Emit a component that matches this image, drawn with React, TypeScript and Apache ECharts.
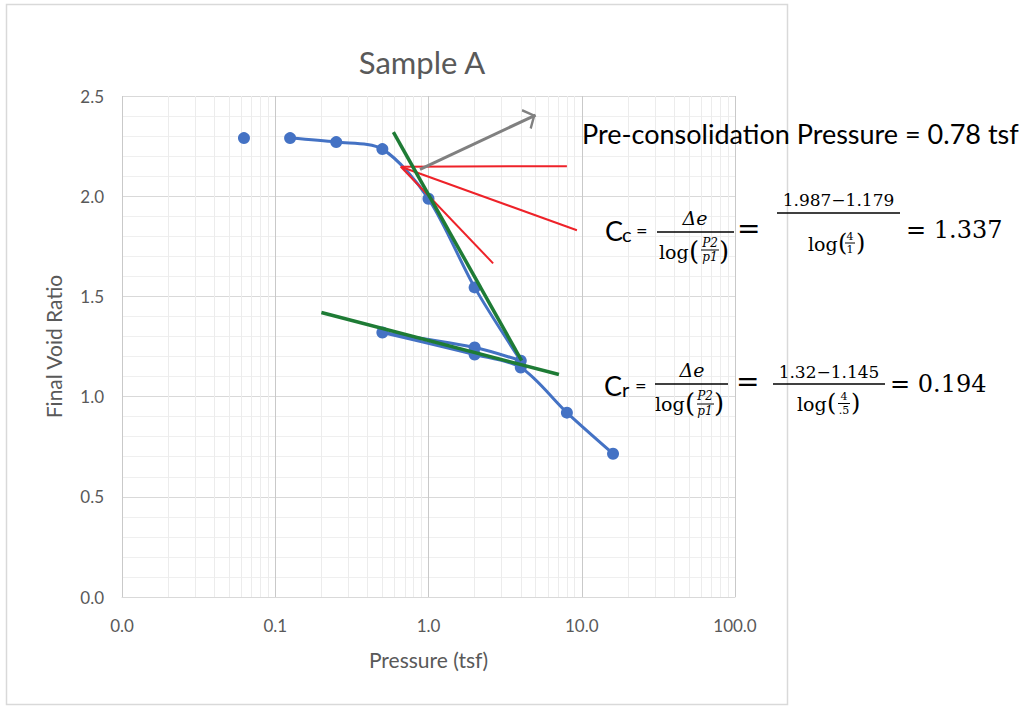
import { useEffect, useRef } from "react";
import * as echarts from "echarts";

// ---- data ----
const isolatedPressure = [0.0625];
const isolatedVoidRatio = [2.29];
const pressures = [0.125, 0.25, 0.5, 1, 2, 4, 2, 0.5, 2, 4, 8, 16];
const voidRatios = [2.29, 2.27, 2.235, 1.987, 1.545, 1.179, 1.245, 1.32, 1.21, 1.145, 0.92, 0.715];

const ccLinePressure = [0.59, 4.05];
const ccLineVoid = [2.32, 1.18];
const crLinePressure = [0.2, 7.1];
const crLineVoid = [1.42, 1.11];

const redOriginPressure = 0.66;
const redOriginVoid = 2.147;
const redEndPressure = [8, 9.3, 2.64];
const redEndVoid = [2.15, 1.83, 1.665];

const arrowPressure = [0.88, 5.0];
const arrowVoid = [2.134, 2.405];

const xMinorTicks = [
  0.02, 0.03, 0.04, 0.05, 0.06, 0.07, 0.08, 0.09,
  0.2, 0.3, 0.4, 0.5, 0.6, 0.7, 0.8, 0.9,
  2, 3, 4, 5, 6, 7, 8, 9,
  20, 30, 40, 50, 60, 70, 80, 90,
];

const SANS = "Lato, 'Open Sans', sans-serif";
const SERIF = "'DejaVu Serif', 'Liberation Serif', serif";

function txt(x: number, y: number, text: string, size: number, o: any = {}) {
  return {
    type: "text",
    x,
    y,
    z: 100,
    silent: true,
    style: {
      text,
      fontSize: size,
      fontFamily: o.family ?? SERIF,
      fontStyle: o.italic ? "italic" : "normal",
      fill: o.fill ?? "#000",
      align: o.align ?? "left",
      verticalAlign: o.va ?? "middle",
    },
  };
}
function bar(x1: number, x2: number, y: number, w = 1.3) {
  return {
    type: "line",
    z: 100,
    silent: true,
    shape: { x1, y1: y, x2, y2: y },
    style: { stroke: "#000", lineWidth: w },
  };
}

const CHEVRON = "path://M0,-14 M0,0 L12,12 L10,14 L0,4 L-10,14 L-12,12 Z";

export default function App() {
  const ref = useRef<HTMLDivElement>(null);
  useEffect(() => {
    if (!ref.current) return;
    const chart = echarts.init(ref.current, null, { renderer: "svg" });

    const mainData = pressures.map((p, i) => [p, voidRatios[i]]);
    const isoData = isolatedPressure.map((p, i) => [p, isolatedVoidRatio[i]]);
    const green = "#1e7b35";
    const red = "#ee2229";
    const blue = "#4472c4";

    const redSeries = redEndPressure.map((p, i) => ({
      type: "line",
      data: [
        [redOriginPressure, redOriginVoid],
        [p, redEndVoid[i]],
      ],
      symbol: "none",
      z: 4,
      lineStyle: { color: red, width: 2 },
      silent: true,
    }));

    const graphics: any[] = [
      {
        type: "rect",
        z: 0,
        silent: true,
        shape: { x: 6.5, y: 4.5, width: 781, height: 700 },
        style: { fill: "none", stroke: "#d9d9d9", lineWidth: 1.5 },
      },
      txt(582, 133, "Pre-consolidation Pressure = 0.78 tsf", 27, { family: SANS }),

      // Cc formula
      txt(605, 230, "C", 27, { family: SANS }),
      txt(622, 234, "c", 20, { family: SANS }),
      txt(636, 230, "=", 20, { family: SANS }),
      txt(695, 227, "Δe", 19, { italic: true, align: "center", va: "bottom" }),
      bar(657, 734, 232),
      txt(659, 252, "log", 19),
      txt(689, 251, "(", 26),
      txt(710, 249, "P2", 12, { italic: true, align: "center", va: "bottom" }),
      bar(701, 719, 250, 1),
      txt(710, 251, "p1", 12, { italic: true, align: "center", va: "top" }),
      txt(719, 251, ")", 26),
      txt(737, 228, "=", 28),
      txt(838.5, 208, "1.987−1.179", 17, { align: "center", va: "bottom" }),
      bar(777, 900, 213),
      txt(808, 244, "log", 19),
      txt(838, 243, "(", 24),
      txt(850, 242, "4", 11, { align: "center", va: "bottom" }),
      bar(845, 855, 243, 1),
      txt(850, 244, "1", 11, { align: "center", va: "top" }),
      txt(856, 243, ")", 24),
      txt(906, 230, "= 1.337", 24),

      // Cr formula
      txt(604, 385, "C", 27, { family: SANS }),
      txt(622, 389, "r", 20, { family: SANS }),
      txt(635, 385, "=", 20, { family: SANS }),
      txt(692, 379, "Δe", 19, { italic: true, align: "center", va: "bottom" }),
      bar(655, 728, 384),
      txt(655, 404, "log", 19),
      txt(685, 403, "(", 26),
      txt(705, 402, "P2", 12, { italic: true, align: "center", va: "bottom" }),
      bar(697, 714, 404, 1),
      txt(705, 405, "p1", 12, { italic: true, align: "center", va: "top" }),
      txt(714, 403, ")", 26),
      txt(736, 381, "=", 28),
      txt(829, 380, "1.32−1.145", 17, { align: "center", va: "bottom" }),
      bar(773, 885, 384),
      txt(797, 404, "log", 19),
      txt(827, 403, "(", 24),
      txt(844, 402, "4", 11, { align: "center", va: "bottom" }),
      bar(838, 850, 403.5, 1),
      txt(844, 405, ".5", 11, { align: "center", va: "top" }),
      txt(851, 403, ")", 24),
      txt(890, 384, "= 0.194", 24),
    ];

    chart.setOption({
      animation: false,
      title: {
        text: "Sample A",
        left: 417,
        top: 41,
        textAlign: "center",
        textStyle: { fontFamily: SANS, fontSize: 31, fontWeight: "normal", color: "#595959" },
      },
      grid: { left: 122, top: 96, right: 296, bottom: 109, containLabel: false },
      xAxis: {
        type: "log",
        logBase: 10,
        min: 0.01,
        max: 100,
        name: "Pressure (tsf)",
        nameLocation: "middle",
        nameGap: 52,
        nameTextStyle: { fontFamily: SANS, fontSize: 21, color: "#595959" },
        axisLine: { show: true, lineStyle: { color: "#d9d9d9", width: 1 } },
        axisTick: { show: false },
        axisLabel: {
          fontFamily: SANS,
          fontSize: 17,
          color: "#595959",
          margin: 20,
          formatter: (v: number) => v.toFixed(1),
        },
        splitLine: { show: true, lineStyle: { color: "#c9c9c9", width: 1 } },
      },
      yAxis: {
        type: "value",
        min: 0,
        max: 2.5,
        interval: 0.5,
        name: "Final Void Ratio",
        nameLocation: "middle",
        nameGap: 58,
        nameTextStyle: { fontFamily: SANS, fontSize: 21, color: "#595959" },
        axisLine: { show: false },
        axisTick: { show: false },
        axisLabel: {
          fontFamily: SANS,
          fontSize: 17,
          color: "#595959",
          margin: 18,
          formatter: (v: number) => v.toFixed(1),
        },
        splitLine: { show: true, lineStyle: { color: "#d9d9d9", width: 1 } },
        minorTick: { show: false, splitNumber: 5 },
        minorSplitLine: { show: true, lineStyle: { color: "#efefef", width: 1 } },
      },
      graphic: graphics,
      series: [
        {
          type: "line",
          data: [],
          z: 1,
          silent: true,
          symbol: "none",
          markLine: {
            silent: true,
            z: 1,
            symbol: "none",
            label: { show: false },
            lineStyle: { color: "#ececec", width: 1, type: "solid" },
            data: xMinorTicks.map((v) => ({ xAxis: v })),
          },
        },
        {
          type: "line",
          data: mainData,
          smooth: 0.3,
          z: 3,
          symbol: "circle",
          symbolSize: 12,
          itemStyle: { color: blue, opacity: 1 },
          lineStyle: { color: blue, width: 3 },
        },
        {
          type: "scatter",
          data: isoData,
          z: 3,
          symbolSize: 12,
          itemStyle: { color: blue, opacity: 1 },
        },
        {
          type: "line",
          data: ccLinePressure.map((p, i) => [p, ccLineVoid[i]]),
          symbol: "none",
          z: 5,
          lineStyle: { color: green, width: 3.5 },
        },
        {
          type: "line",
          data: crLinePressure.map((p, i) => [p, crLineVoid[i]]),
          symbol: "none",
          z: 5,
          lineStyle: { color: green, width: 3.5 },
        },
        ...redSeries,
        {
          type: "line",
          data: [],
          z: 6,
          markLine: {
            silent: true,
            z: 6,
            symbol: ["none", CHEVRON],
            symbolSize: 22,
            label: { show: false },
            lineStyle: { color: "#808080", width: 3, type: "solid" },
            data: [
              [
                { coord: [arrowPressure[0], arrowVoid[0]] },
                { coord: [arrowPressure[1], arrowVoid[1]] },
              ],
            ],
          },
        },
      ],
    });
    return () => chart.dispose();
  }, []);

  return (
    <div
      ref={ref}
      style={{ position: "fixed", left: 0, top: 0, width: 1031, height: 706, background: "#fff" }}
    />
  );
}
